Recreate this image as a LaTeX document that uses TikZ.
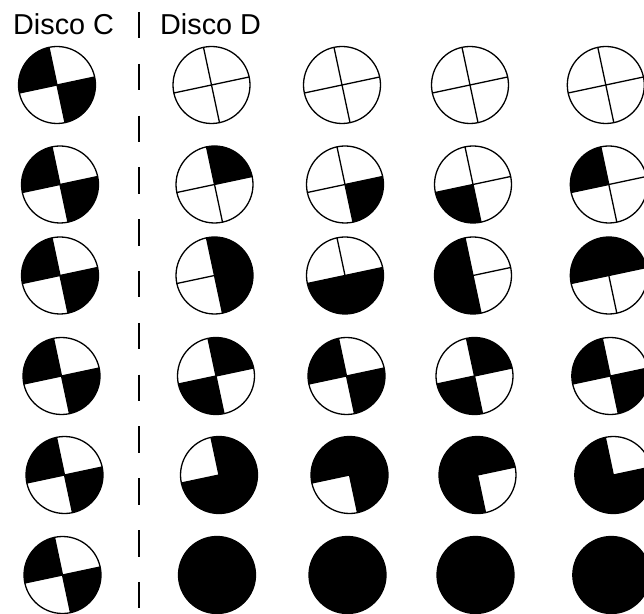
\documentclass[tikz,border=0pt]{standalone}
\usepackage{fontspec}
\setmainfont{Liberation Sans}
\usepackage{tikz}

\tikzset{
  disc line/.style={line width=1.3pt},
  divider/.style={line width=2.5pt, dash pattern=on 26.5pt off 25.3pt},
  title text/.style={font=\fontsize{28.8}{34}\selectfont, inner sep=0pt, anchor=base west}
}
\newcommand{\discrad}{38.5}
% one disc: centre, list of black quarters (0 = none)
\newcommand{\disco}[2]{%
  \foreach \q in #2 {
    \ifnum\q>0
      \fill #1 -- ++({12+90*(\q-1)}:\discrad) arc[start angle={12+90*(\q-1)}, delta angle=90, radius=\discrad] -- cycle;
    \fi
  }
  \draw[disc line] #1 circle[radius=\discrad];
  \draw[disc line] #1 ++(12:\discrad) -- ++(192:77);
  \draw[disc line] #1 ++(102:\discrad) -- ++(282:77);
}

\begin{document}
\begin{tikzpicture}[x=1pt, y=1pt]
  \useasboundingbox (0,0) rectangle (644,613);
  \node[title text] (titleC) at (13,578) {Disco C};
  \node[title text] (titleD) at (160,578) {Disco D};
  \coordinate (divtop) at (139,601);
  \coordinate (divbot) at (139,5);
  \draw[divider] (divtop) -- (divbot);
  \foreach \cy/\dx/\pa/\pb/\pc/\pd in {
    528/0/0/0/0/0,
    428.5/3/1/4/3/2,
    337.5/3/{1,4}/{3,4}/{2,3}/{1,2},
    237/4.5/{1,3}/{2,4}/{1,3}/{2,4},
    138/7.5/{1,3,4}/{1,2,4}/{1,2,3}/{2,3,4},
    38/5.5/{1,2,3,4}/{1,2,3,4}/{1,2,3,4}/{1,2,3,4}} {
    \disco{(57+\dx,\cy)}{{2,4}}
    \disco{(211.5+\dx,\cy)}{\pa}
    \disco{(342+\dx,\cy)}{\pb}
    \disco{(470+\dx,\cy)}{\pc}
    \disco{(605.8+\dx,\cy)}{\pd}
  }
\end{tikzpicture}
\end{document}
